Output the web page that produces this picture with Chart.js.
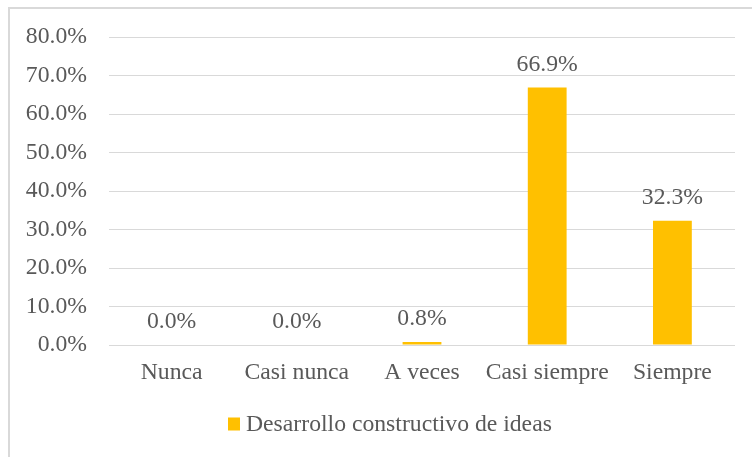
<!DOCTYPE html>
<html>
<head>
<meta charset="utf-8">
<script src="https://cdn.jsdelivr.net/npm/chart.js@4/dist/chart.umd.min.js"></script>
<style>
html,body{margin:0;padding:0;background:#fff;}
#wrap{position:relative;width:752px;height:457px;overflow:hidden;}
#frame{position:absolute;left:8px;top:7px;width:800px;height:500px;border-top:2px solid #d9d9d9;border-left:2px solid #d9d9d9;box-sizing:border-box;}
canvas{position:absolute;left:0;top:0;}
</style>
</head>
<body>
<div id="wrap">
<div id="frame"></div>
<canvas id="c" width="752" height="457"></canvas>
</div>
<script>
const categories = ["Nunca", "Casi nunca", "A veces", "Casi siempre", "Siempre"];
const seriesName = "Desarrollo constructivo de ideas";
const values = [0.0, 0.0, 0.8, 66.9, 32.3];
const yTicks = [0, 10, 20, 30, 40, 50, 60, 70, 80];

const FONT = "'Liberation Serif', 'Times New Roman', serif";
const TEXT = "#595959";
const FS = 23.7;

const labelPlugin = {
  id: 'valueLabels',
  afterDatasetsDraw(chart) {
    const ctx = chart.ctx;
    const meta = chart.getDatasetMeta(0);
    ctx.save();
    ctx.font = FS + "px " + FONT;
    ctx.fillStyle = TEXT;
    ctx.textAlign = 'center';
    ctx.textBaseline = 'middle';
    meta.data.forEach((bar, i) => {
      ctx.fillText(values[i].toFixed(1) + '%', bar.x, bar.y - 23);
    });
    // legend
    const ds = chart.data.datasets[0];
    const boxX = 228, cy = 424;
    ctx.fillStyle = ds.backgroundColor;
    ctx.fillRect(boxX, cy - 6.5, 12, 13);
    ctx.fillStyle = TEXT;
    ctx.textAlign = 'left';
    ctx.fillText(ds.label, boxX + 18, cy + 1);
    ctx.restore();
  }
};

new Chart(document.getElementById('c'), {
  type: 'bar',
  data: {
    labels: categories,
    datasets: [{
      label: seriesName,
      data: values,
      backgroundColor: '#FFC000',
      borderWidth: 0,
      categoryPercentage: 1,
      barPercentage: 0.31
    }]
  },
  options: {
    responsive: false,
    animation: false,
    layout: { padding: { left: 0, right: 17, top: 37, bottom: 0 } },
    scales: {
      x: {
        afterFit(scale) { scale.height = 112; },
        grid: { display: false, drawTicks: false },
        border: { display: false },
        ticks: { color: TEXT, font: { family: FONT, size: FS }, padding: 14, maxRotation: 0, autoSkip: false }
      },
      y: {
        min: 0, max: 80,
        afterBuildTicks(scale) { scale.ticks = yTicks.map(v => ({ value: v })); },
        afterFit(scale) { scale.width = 109; },
        grid: { color: '#d9d9d9', lineWidth: 1, drawTicks: false },
        border: { display: false },
        ticks: {
          color: TEXT, font: { family: FONT, size: FS }, padding: 22,
          callback: v => v.toFixed(1) + '%'
        }
      }
    },
    plugins: {
      legend: { display: false },
      tooltip: { enabled: false }
    }
  },
  plugins: [labelPlugin]
});
</script>
</body>
</html>
